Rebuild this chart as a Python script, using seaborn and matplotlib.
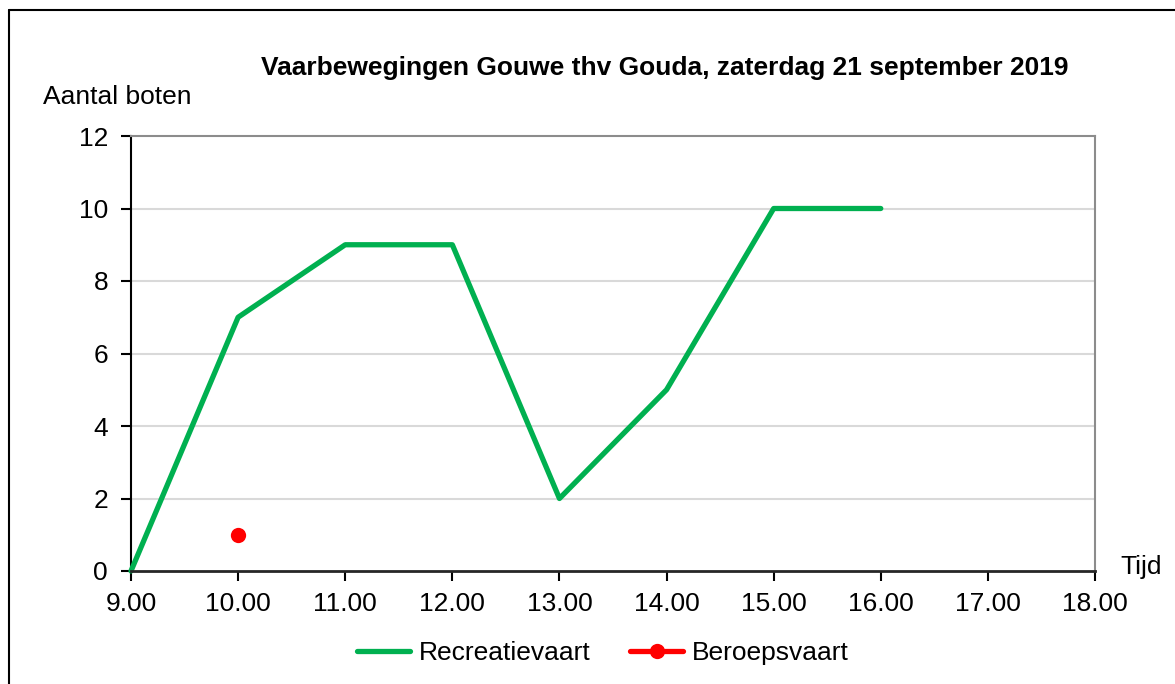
import matplotlib
matplotlib.use("Agg")
import matplotlib.pyplot as plt
from matplotlib.lines import Line2D
import seaborn as sns
import pandas as pd

# data
uren = [9, 10, 11, 12, 13, 14, 15, 16]
recreatievaart = [0, 7, 9, 9, 2, 5, 10, 10]
beroeps_uren = [10]
beroepsvaart = [1]
x_ticks = list(range(9, 19))
y_ticks = list(range(0, 13, 2))

GREEN = "#00B050"
RED = "#FF0000"

sns.set_theme(style="white")
plt.rcParams["font.family"] = ["Liberation Sans", "DejaVu Sans"]
plt.rcParams["text.color"] = "black"
plt.rcParams["xtick.color"] = "black"
plt.rcParams["ytick.color"] = "black"

fig = plt.figure(figsize=(11.75, 6.84), dpi=100)
ax = fig.add_axes([131 / 1175, 1 - 571 / 684, (1095 - 131) / 1175, (571 - 136) / 684])

df_rec = pd.DataFrame({"uur": uren, "aantal": recreatievaart})
df_ber = pd.DataFrame({"uur": beroeps_uren, "aantal": beroepsvaart})

sns.lineplot(data=df_rec, x="uur", y="aantal", ax=ax, color=GREEN,
             linewidth=3.8, clip_on=False, zorder=3)
sns.lineplot(data=df_ber, x="uur", y="aantal", ax=ax, color=RED,
             linewidth=3.8, marker="o", markersize=11, markeredgewidth=0,
             zorder=4)

ax.set_xlim(9, 18)
ax.set_ylim(0, 12)
ax.set_xticks(x_ticks)
ax.set_xticklabels([f"{t}.00" for t in x_ticks])
ax.set_yticks(y_ticks)
ax.set_xlabel("")
ax.set_ylabel("")
ax.tick_params(axis="both", labelsize=19, direction="out", length=7,
               width=1.5, color="black", labelcolor="black",
               left=True, bottom=True)
ax.tick_params(axis="x", pad=8)
ax.tick_params(axis="y", pad=9.5)

for v in y_ticks[1:-1]:
    ax.axhline(v, color="#D9D9D9", linewidth=1.5, zorder=1)

ax.spines["left"].set_color("black")
ax.spines["left"].set_linewidth(1.5)
ax.spines["bottom"].set_color("#262626")
ax.spines["bottom"].set_linewidth(2)
ax.spines["top"].set_color("#8C8C8C")
ax.spines["top"].set_linewidth(1.5)
ax.spines["right"].set_color("#8C8C8C")
ax.spines["right"].set_linewidth(1.5)
ax.spines["bottom"].set_zorder(5)

fig.text(665 / 1175, 1 - 68 / 684,
         "Vaarbewegingen Gouwe thv Gouda, zaterdag 21 september 2019",
         ha="center", va="center", fontsize=19, fontweight="bold")
fig.text(43 / 1175, 1 - 97 / 684, "Aantal boten", ha="left", va="center",
         fontsize=19)
fig.text(1120 / 1175, 1 - 567 / 684, "Tijd", ha="left", va="center",
         fontsize=19)

handles = [
    Line2D([], [], color=GREEN, linewidth=3.8, solid_capstyle="round"),
    Line2D([], [], color=RED, linewidth=3.8, marker="o", markersize=11,
           markeredgewidth=0, solid_capstyle="round"),
]
fig.legend(handles, ["Recreatievaart", "Beroepsvaart"], loc="center",
           bbox_to_anchor=(603 / 1175, 1 - 653 / 684), ncol=2, frameon=False,
           fontsize=19, handlelength=2.0, handletextpad=0.35,
           columnspacing=1.5)

# outer chart frame (left and top edges visible)
fig.add_artist(Line2D([9 / 1175, 9 / 1175], [0, 1 - 10 / 684],
                      transform=fig.transFigure, color="black", linewidth=1.5))
fig.add_artist(Line2D([9 / 1175, 1], [1 - 10 / 684, 1 - 10 / 684],
                      transform=fig.transFigure, color="black", linewidth=1.5))

fig.savefig("out.png", dpi=100)
